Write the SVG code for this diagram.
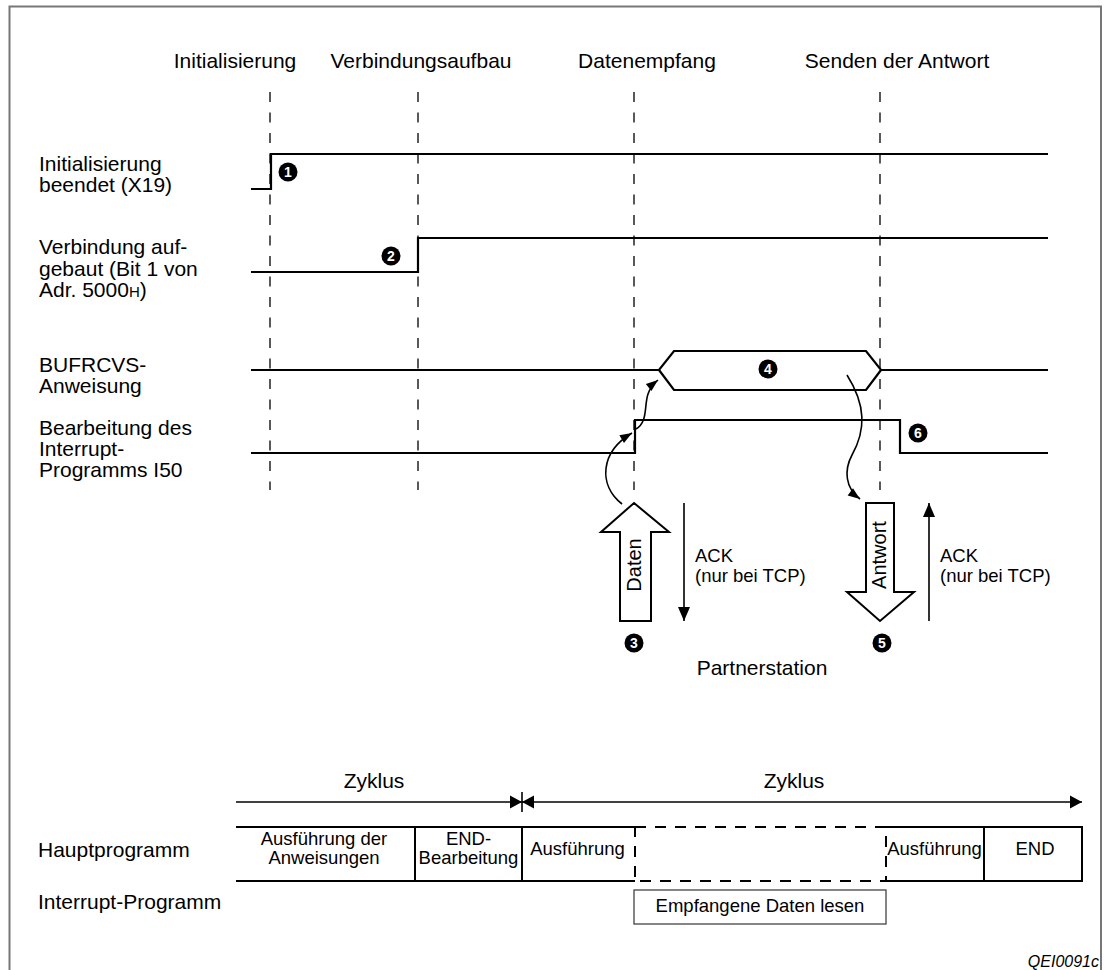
<svg xmlns="http://www.w3.org/2000/svg" width="1105" height="970" viewBox="0 0 1105 970">
<defs>
<style>
text{font-family:"Liberation Sans",Arial,sans-serif;fill:#000}
.l{font-size:21px}
.s{font-size:18.5px}
.c{text-anchor:middle}
.sig{fill:none;stroke:#000;stroke-width:2.2}
.dash{fill:none;stroke:#000;stroke-width:1.3;stroke-dasharray:10 10.5}
.ln{fill:none;stroke:#000;stroke-width:1.6}
.hollow{fill:#fff;stroke:#000;stroke-width:2}
.box{fill:none;stroke:#000;stroke-width:2}
.dbox{fill:none;stroke:#000;stroke-width:2;stroke-dasharray:11 9}
.num circle{fill:#000}
.num text{fill:#fff;font-weight:bold;font-size:14px;text-anchor:middle}
</style>
<marker id="wv" markerUnits="userSpaceOnUse" markerWidth="14" markerHeight="12" refX="12" refY="4.5" orient="auto" overflow="visible"><path d="M0,0 L12,4.5 L0,9 Z" fill="#000"/></marker>
<marker id="ack" markerUnits="userSpaceOnUse" markerWidth="16" markerHeight="14" refX="14" refY="6" orient="auto" overflow="visible"><path d="M0,0 L14,6 L0,12 Z" fill="#000"/></marker>
<marker id="zy" markerUnits="userSpaceOnUse" markerWidth="14" markerHeight="14" refX="12" refY="6.5" orient="auto-start-reverse" overflow="visible"><path d="M0,0 L12,6.5 L0,13 Z" fill="#000"/></marker>
</defs>
<rect x="0" y="0" width="1105" height="970" fill="#fff"/>
<rect x="9.5" y="6.5" width="1091.5" height="1000" fill="none" stroke="#777" stroke-width="2"/>

<g id="phase-labels" class="l c">
<text x="235" y="68">Initialisierung</text>
<text x="421" y="68">Verbindungsaufbau</text>
<text x="647" y="68">Datenempfang</text>
<text x="897" y="68">Senden der Antwort</text>
</g>

<g id="phase-lines">
<line class="dash" x1="270" y1="92" x2="270" y2="490"/>
<line class="dash" x1="418" y1="92" x2="418" y2="490"/>
<line class="dash" x1="634" y1="92" x2="634" y2="490"/>
<line class="dash" x1="880" y1="92" x2="880" y2="490"/>
</g>

<g id="sig-init">
<text class="l" x="39" y="171">Initialisierung</text>
<text class="l" x="39" y="192">beendet (X19)</text>
<path class="sig" d="M251,189 H271 V154 H1048"/>
<g class="num"><circle cx="288" cy="172" r="9.5"/><text x="288" y="177">1</text></g>
</g>

<g id="sig-conn">
<text class="l" x="39" y="254">Verbindung auf-</text>
<text class="l" x="39" y="276">gebaut (Bit 1 von</text>
<text class="l" x="39" y="297">Adr. 5000<tspan font-size="15">H</tspan>)</text>
<path class="sig" d="M251,272 H418 V238 H1048"/>
<g class="num"><circle cx="391" cy="256" r="9.5"/><text x="391" y="261">2</text></g>
</g>

<g id="sig-bufrcvs">
<text class="l" x="39" y="372">BUFRCVS-</text>
<text class="l" x="39" y="393">Anweisung</text>
<path class="sig" d="M251,370 H659 L674,351 H866 L881,370 H1048 M659,370 L674,390 H866 L881,370"/>
<g class="num"><circle cx="768" cy="369" r="9.5"/><text x="768" y="374">4</text></g>
</g>

<g id="sig-interrupt">
<text class="l" x="39" y="435">Bearbeitung des</text>
<text class="l" x="39" y="456">Interrupt-</text>
<text class="l" x="39" y="477">Programms I50</text>
<path class="sig" d="M251,453 H635 V420 H900 V453 H1048"/>
<g class="num"><circle cx="918" cy="433" r="9.5"/><text x="918" y="438">6</text></g>
</g>

<g id="daten">
<polygon class="hollow" points="634,503 669,532 651,532 651,621 620,621 620,532 601,532"/>
<text class="c" font-size="20" transform="translate(641,565) rotate(-90)">Daten</text>
<g class="num"><circle cx="634" cy="643" r="9.5"/><text x="634" y="648">3</text></g>
</g>

<g id="antwort">
<polygon class="hollow" points="866,503 894,503 894,592 914,592 880,621 847,592 866,592"/>
<text class="c" font-size="20" transform="translate(886,555) rotate(-90)">Antwort</text>
<g class="num"><circle cx="882" cy="643" r="9.5"/><text x="882" y="648">5</text></g>
</g>

<g id="ack1">
<text class="s" x="695" y="562">ACK</text>
<text class="s" x="695" y="582">(nur bei TCP)</text>
</g>
<g id="ack2">
<text class="s" x="940" y="562">ACK</text>
<text class="s" x="940" y="582">(nur bei TCP)</text>
</g>

<g id="partner">
<text class="l c" x="762" y="675">Partnerstation</text>
</g>

<g id="connectors">
<path class="ln" d="M622,504 C598,485 600,452 632,433" marker-end="url(#wv)"/>
<path class="ln" d="M636,429 C648,422 644,406 648,394 C650,388 653,384 658,380" marker-end="url(#wv)"/>
<path class="ln" d="M847,375 C866,405 866,430 852,455 C844,470 845,488 860,499" marker-end="url(#wv)"/>
<line class="ln" x1="684" y1="503" x2="684" y2="621" marker-end="url(#ack)"/>
<line class="ln" x1="929" y1="621" x2="929" y2="503" marker-end="url(#ack)"/>
<line class="ln" x1="236" y1="802" x2="522" y2="802" marker-end="url(#zy)"/>
<line class="ln" x1="522" y1="802" x2="1082" y2="802" marker-start="url(#zy)" marker-end="url(#zy)"/>
<line class="ln" x1="522" y1="792" x2="522" y2="812"/>
</g>

<g id="zyklus-labels" class="l c">
<text x="374" y="788">Zyklus</text>
<text x="794" y="788">Zyklus</text>
</g>

<g id="hauptprogramm">
<text class="l" x="38" y="857">Hauptprogramm</text>
<path class="box" d="M236,827 H635 M236,881 H635 M415,827 V881 M522,827 V881"/>
<rect class="dbox" x="635" y="827" width="251" height="54"/>
<path class="box" d="M886,827 H1082 V881 H886 M984,827 V881"/>
<text class="s c" x="324" y="845">Ausführung der</text>
<text class="s c" x="324" y="864">Anweisungen</text>
<text class="s c" x="468.5" y="845">END-</text>
<text class="s c" x="468.5" y="864">Bearbeitung</text>
<text class="s c" x="577.5" y="855">Ausführung</text>
<text class="s c" x="934.5" y="855">Ausführung</text>
<text class="s c" x="1035" y="855">END</text>
</g>

<g id="interrupt-programm">
<text class="l" x="38" y="909">Interrupt-Programm</text>
<rect x="634" y="890" width="252" height="34" fill="none" stroke="#444" stroke-width="1.3"/>
<text class="s c" x="760" y="912">Empfangene Daten lesen</text>
</g>

<text x="1099" y="967" font-size="16" font-style="italic" text-anchor="end">QEI0091c</text>
</svg>
